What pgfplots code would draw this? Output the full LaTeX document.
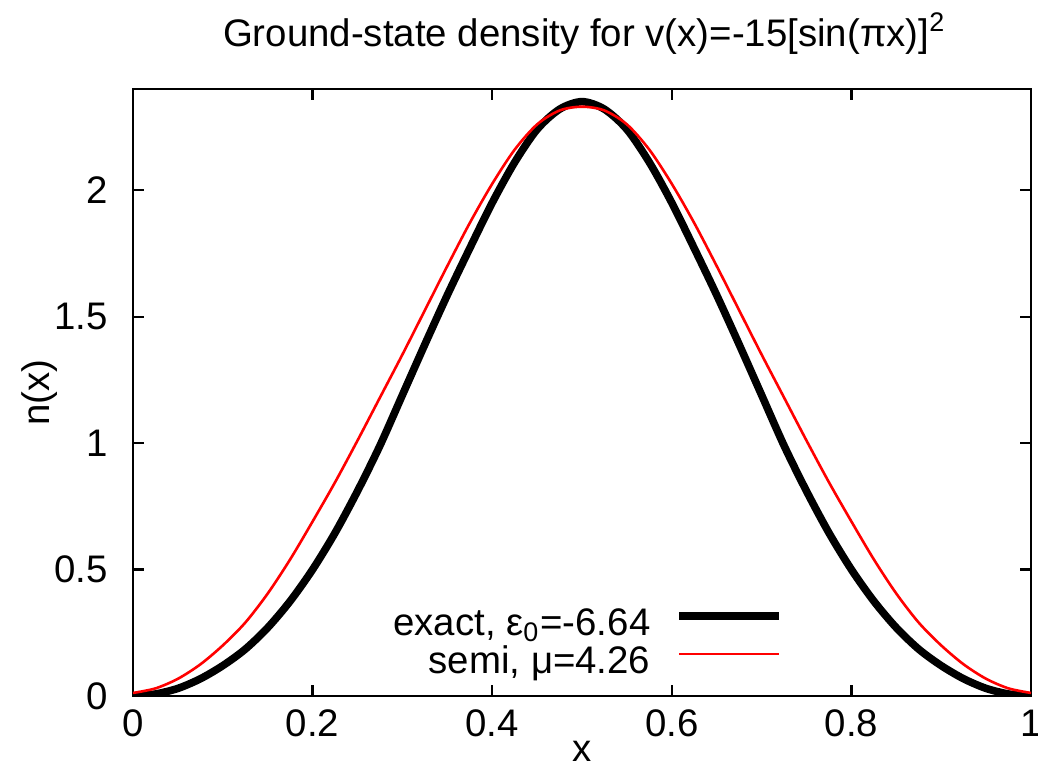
\documentclass[border=0pt]{standalone}
\usepackage{fontspec}
\setmainfont{Liberation Sans}
\usepackage{pgfplots}
\pgfplotsset{compat=1.18}
\begin{document}
\fontsize{9.6}{11.5}\selectfont
\begin{tikzpicture}
\begin{axis}[
  scale only axis,
  width=224.5pt, height=151.75pt,
  xmin=0, xmax=1, ymin=0, ymax=2.4,
  xtick={0,0.2,0.4,0.6,0.8,1},
  ytick={0,0.5,1,1.5,2},
  /pgf/number format/assume math mode=true,
  tick align=inside,
  major tick length=2.75pt,
  axis line style={black, line width=0.55pt},
  every tick/.style={black, line width=0.55pt},
  yticklabel style={xshift=-3pt},
  xlabel={x},
  ylabel={n(x)},
  xlabel style={at={(axis description cs:0.5,-0.092)}, anchor=center},
  ylabel style={at={(axis description cs:-0.1036,0.5)}, anchor=center, rotate=0},
  title={Ground-state density for v(x)=-15[sin(πx)]\textsuperscript{2}},
  title style={at={(axis description cs:0.503,1.031)}, anchor=base},
  legend cell align=right,
  legend plot pos=right,
  legend style={draw=none, fill=none, inner sep=0pt, outer sep=0pt,
    at={(axis description cs:0.7238,0.0214)}, anchor=south east,
    row sep=-0.5pt, column sep=6.25pt,
    nodes={inner sep=0pt, outer sep=0pt, text height=7.5pt, text depth=2.5pt}},
  legend image code/.code={\draw[#1] (0pt,2.3pt) -- (25pt,2.3pt);},
]
\addplot[black, line width=1.9pt, smooth] coordinates {
(0,0) (0.025,0.008) (0.05,0.03) (0.075,0.068) (0.1,0.12) (0.125,0.185) (0.15,0.27) (0.175,0.375) (0.2,0.50) (0.225,0.645) (0.25,0.81) (0.275,0.99) (0.3,1.19) (0.325,1.39) (0.35,1.585) (0.375,1.77) (0.4,1.95) (0.425,2.11) (0.45,2.24) (0.475,2.32) (0.5,2.35)
(0.525,2.32) (0.55,2.24) (0.575,2.11) (0.6,1.95) (0.625,1.77) (0.65,1.585) (0.675,1.39) (0.7,1.19) (0.725,0.99) (0.75,0.81) (0.775,0.645) (0.8,0.50) (0.825,0.375) (0.85,0.27) (0.875,0.185) (0.9,0.12) (0.925,0.068) (0.95,0.03) (0.975,0.008) (1,0)
};
\addlegendentry{exact, ε\textsubscript{0}=-6.64}
\addplot[red, line width=0.65pt, smooth] coordinates {
(0,0.012) (0.025,0.03) (0.05,0.068) (0.075,0.125) (0.1,0.20) (0.125,0.29) (0.15,0.405) (0.175,0.54) (0.2,0.69) (0.225,0.845) (0.25,1.01) (0.275,1.18) (0.3,1.35) (0.325,1.525) (0.35,1.70) (0.375,1.87) (0.4,2.025) (0.425,2.16) (0.45,2.26) (0.475,2.315) (0.5,2.33)
(0.525,2.315) (0.55,2.26) (0.575,2.16) (0.6,2.025) (0.625,1.87) (0.65,1.70) (0.675,1.525) (0.7,1.35) (0.725,1.18) (0.75,1.01) (0.775,0.845) (0.8,0.69) (0.825,0.54) (0.85,0.405) (0.875,0.29) (0.9,0.20) (0.925,0.125) (0.95,0.068) (0.975,0.03) (1,0.012)
};
\addlegendentry{semi, μ=4.26}
\end{axis}
\pgfresetboundingbox
\path[use as bounding box] ([shift={(-33.25pt,-18pt)}]current axis.south west) rectangle ([shift={(1.75pt,22.25pt)}]current axis.north east);
\end{tikzpicture}
\end{document}
